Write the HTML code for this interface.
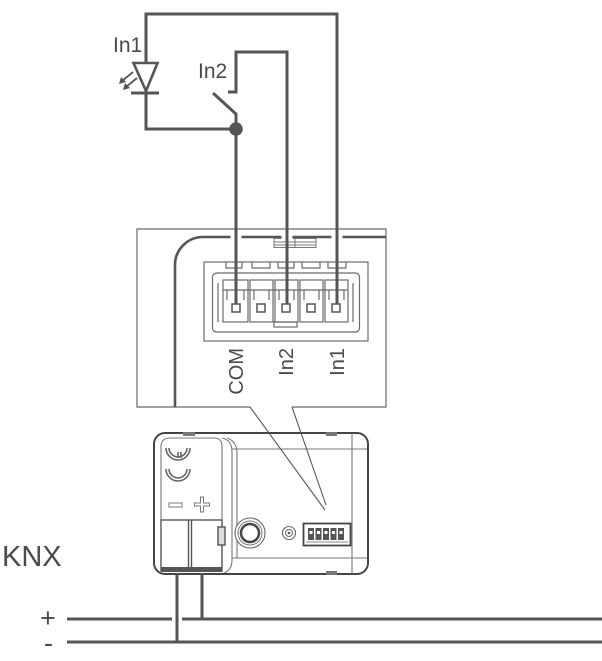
<!DOCTYPE html>
<html><head><meta charset="utf-8"><style>
html,body{margin:0;padding:0;background:#fff;}
svg{display:block;}
text{font-family:"Liberation Sans",sans-serif;fill:#4a4a4a;}
</style></head><body>
<svg width="602" height="661" viewBox="0 0 602 661" xmlns="http://www.w3.org/2000/svg">
<!-- callout box -->
<path d="M250,407 H137 V229 H386 V407 H292" fill="none" stroke="#6a6a6a" stroke-width="1.2"/>
<path d="M175,407 V265 A28,28 0 0 1 203,237 H386" fill="none" stroke="#555" stroke-width="2.6"/>
<!-- label box -->
<g fill="none" stroke="#777" stroke-width="1">
<rect x="274" y="238.5" width="42" height="9"/>
<line x1="274" y1="242" x2="316" y2="242"/>
<line x1="274" y1="245" x2="316" y2="245"/>
<line x1="295" y1="238.5" x2="295" y2="247.5"/>
</g>
<!-- connector -->
<g fill="none" stroke="#6a6a6a" stroke-width="1.2">
<rect x="204" y="262" width="164" height="79"/>
<rect x="212.5" y="273" width="147" height="59" rx="4"/>
<path d="M226,262 V268 H242 V262 M252,262 V268 H270 V262 M278,262 V268 H294 V262 M302,262 V268 H320 V262 M328,262 V268 H346 V262"/>
<path d="M218,283 V322 M353,283 V322"/>
<rect x="223" y="280" width="25" height="42"/>
<rect x="250" y="280" width="23" height="42"/>
<rect x="275" y="280" width="23" height="42"/>
<rect x="300" y="280" width="23" height="42"/>
<rect x="325" y="280" width="23" height="42"/>
<path d="M223,290 H348"/>
<path d="M227,290 V300 M244,290 V300 M254,290 V300 M269,290 V300 M279,290 V300 M294,290 V300 M304,290 V300 M319,290 V300 M329,290 V300 M344,290 V300"/>
<rect x="274" y="322" width="23" height="5"/>
</g>
<g fill="#fff" stroke="#555" stroke-width="1.5">
<rect x="232" y="304" width="8" height="8"/>
<rect x="257" y="304" width="8" height="8"/>
<rect x="282" y="304" width="8" height="8"/>
<rect x="307" y="304" width="8" height="8"/>
<rect x="332" y="304" width="8" height="8"/>
</g>
<!-- rotated labels -->
<text font-size="20" text-anchor="end" transform="translate(243,348) rotate(-90)">COM</text>
<text font-size="20" text-anchor="end" transform="translate(293,348) rotate(-90)">In2</text>
<text font-size="20" text-anchor="end" transform="translate(344,348) rotate(-90)">In1</text>
<!-- wire gaps over thick line -->
<g stroke="#fff" stroke-width="11">
<line x1="236" y1="233" x2="236" y2="241"/>
<line x1="287" y1="233" x2="287" y2="241"/>
<line x1="337" y1="233" x2="337" y2="241"/>
</g>
<!-- wires -->
<g fill="none" stroke="#555" stroke-width="3" stroke-linejoin="miter">
<path d="M146,63 V14 H337 V304"/>
<path d="M228,92 H236 V52 H287 V304"/>
<path d="M213,93 L236,114 V304"/>
<path d="M146,93 V129 H236"/>
<path d="M131,93 H159"/>
</g>
<polygon points="133.5,63 157.5,63 146,91" fill="#fff" stroke="#555" stroke-width="2.6" stroke-linejoin="miter"/>
<circle cx="236" cy="129" r="6.8" fill="#555"/>
<!-- LED arrows -->
<g stroke="#555" stroke-width="1.8" fill="#555">
<line x1="133" y1="72" x2="122" y2="81"/>
<line x1="137" y1="78" x2="126" y2="87"/>
<polygon points="119,84 121,77 126,82" stroke="none"/>
<polygon points="123,90 125,83 130,88" stroke="none"/>
</g>
<text x="113" y="52" font-size="21">In1</text>
<text x="198" y="78" font-size="21">In2</text>
<!-- device -->
<rect x="154" y="433" width="214" height="141" rx="11" fill="#fff" stroke="#444" stroke-width="2"/>
<g fill="none" stroke="#777" stroke-width="1.1">
<path d="M232,449 H367 M232,558 H367 M352,433 V574"/>
<path d="M222,438 Q232,440 232,452 V560 Q232,570 224,573"/>
<path d="M227,438 Q237,441 237,454 V558"/>
<path d="M161,520 V447 Q161,438 170,438 H214 Q222,438 222,446 V520"/>
</g>
<rect x="183" y="432" width="12" height="4" fill="#777"/>
<rect x="326" y="432" width="11" height="4" fill="#777"/>
<rect x="326" y="571" width="11" height="4" fill="#777"/>
<!-- callout lines (over device) -->
<path d="M250,407 L325,510 M292,407 L326,505" fill="none" stroke="#555" stroke-width="1.1"/>
<!-- symbols -->
<g fill="none" stroke="#666" stroke-width="1.6">
<path d="M166,448 A12,12 0 0 0 190,448"/>
<path d="M169,448 A9,9 0 0 0 187,448"/>
<path d="M178,452 V458 M181,452 V458"/>
<path d="M166,469 A12,12 0 0 0 190,469"/>
<path d="M169,469 A9,9 0 0 0 187,469"/>
</g>
<rect x="169" y="503" width="13" height="4" fill="none" stroke="#777" stroke-width="1"/>
<path d="M200.5,497 h3 v6 h6 v3 h-6 v6 h-3 v-6 h-6 v-3 h6 z" fill="none" stroke="#777" stroke-width="1"/>
<!-- terminals -->
<g fill="#fff" stroke="#555" stroke-width="1.4">
<rect x="161" y="520" width="61" height="51"/>
<line x1="188.5" y1="520" x2="188.5" y2="570"/>
<line x1="191.5" y1="520" x2="191.5" y2="570"/>
<rect x="218" y="527" width="7" height="18" fill="#ddd"/>
</g>
<rect x="161" y="567" width="61" height="5" fill="#555"/>
<!-- button, LED -->
<circle cx="250" cy="533" r="15" fill="#fff" stroke="#666" stroke-width="1.1"/>
<circle cx="250" cy="533" r="12" fill="none" stroke="#777" stroke-width="1"/>
<circle cx="250" cy="533" r="9" fill="none" stroke="#444" stroke-width="2.5"/>
<circle cx="289" cy="533" r="6.5" fill="#fff" stroke="#666" stroke-width="1.1"/>
<circle cx="289" cy="533" r="3.5" fill="none" stroke="#666" stroke-width="1"/>
<circle cx="289" cy="533" r="1.3" fill="#555"/>
<!-- small connector -->
<rect x="303.5" y="523.5" width="47" height="22" fill="#fff" stroke="#444" stroke-width="1.8"/>
<g fill="#555">
<rect x="308" y="528" width="6" height="12"/>
<rect x="315.5" y="528" width="6" height="12"/>
<rect x="323" y="528" width="6" height="12"/>
<rect x="330.5" y="528" width="6" height="12"/>
<rect x="338" y="528" width="6" height="12"/>
</g>
<g fill="#fff">
<rect x="309.5" y="531" width="3" height="3"/>
<rect x="317" y="531" width="3" height="3"/>
<rect x="324.5" y="531" width="3" height="3"/>
<rect x="332" y="531" width="3" height="3"/>
<rect x="339.5" y="531" width="3" height="3"/>
</g>
<line x1="306" y1="542" x2="348" y2="542" stroke="#888" stroke-width="1"/>
<!-- KNX bus -->
<text x="2" y="566" font-size="29">KNX</text>
<text x="40" y="627" font-size="27">+</text>
<text x="44" y="652" font-size="27">-</text>
<g stroke="#555" stroke-width="3" fill="none">
<path d="M67,619 H172 M182,619 H602"/>
<path d="M67,642 H602"/>
<path d="M177,573 V642"/>
<path d="M202,573 V619"/>
</g>
</svg>
</body></html>
